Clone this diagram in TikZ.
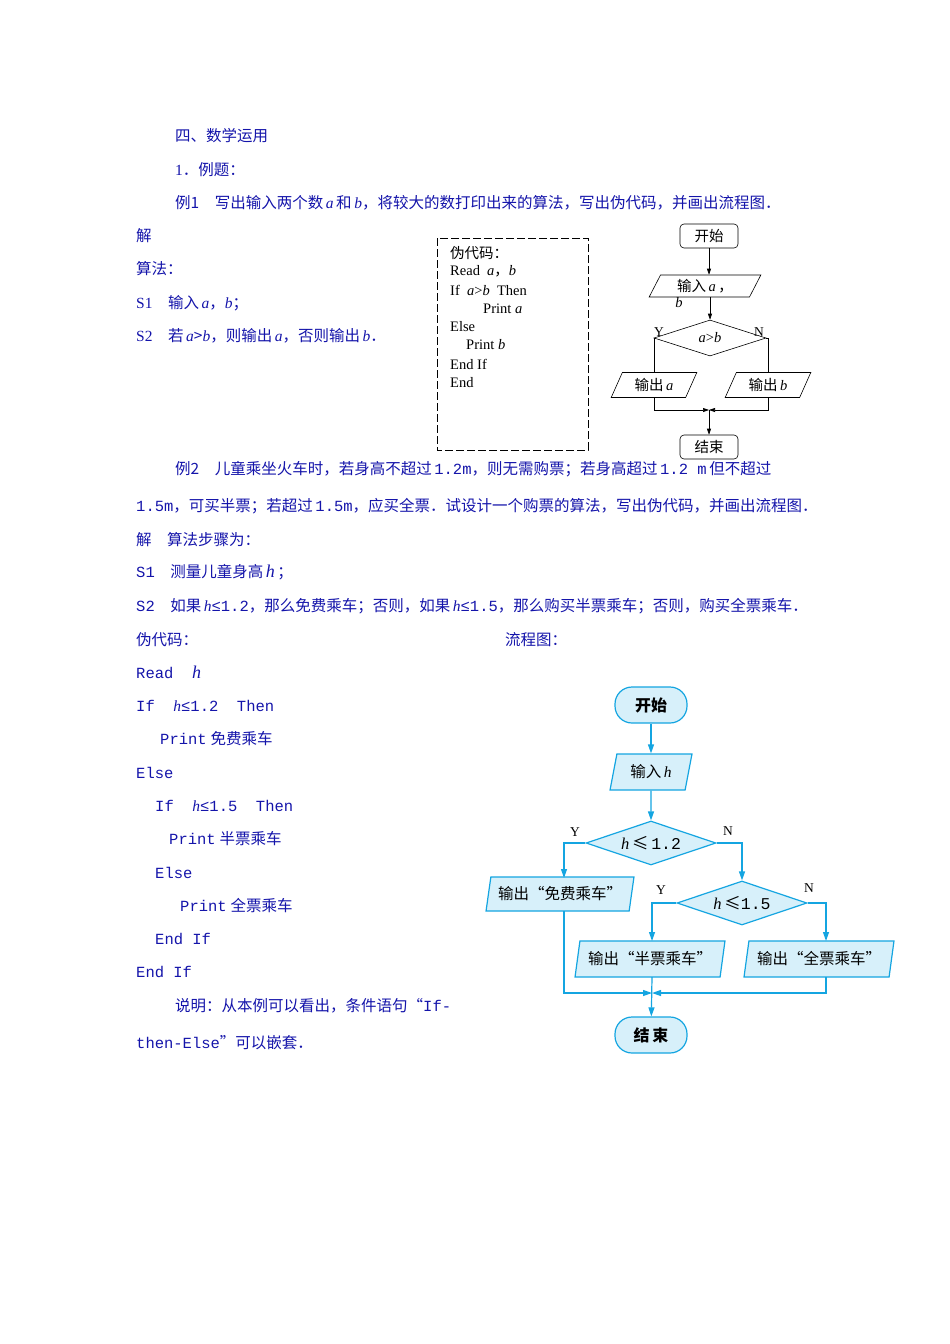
\documentclass[tikz,border=0pt]{standalone}
\usepackage{fontspec}
\setmainfont{Liberation Serif}
\newfontfamily\cj{Noto Sans CJK SC}
\newfontfamily\mn{Liberation Mono}
\usetikzlibrary{shapes.geometric,arrows.meta}
\definecolor{tb}{RGB}{20,20,170}
\definecolor{cy}{RGB}{20,165,225}
\definecolor{cf}{RGB}{215,240,250}
\begin{document}
\begin{tikzpicture}[x=1pt,y=-1pt,
 txt/.style={anchor=west,inner sep=0,text=tb,font=\fontsize{15.5}{17}\selectfont},
 cod/.style={anchor=west,inner sep=0,font=\fontsize{14.5}{16}\selectfont},
 bk/.style={draw,semithick,rounded corners=4pt,minimum width=58,minimum height=24,font=\cj\fontsize{14.5}{16}\selectfont},
 pg/.style={draw,semithick,trapezium,trapezium left angle=65,trapezium right angle=115,trapezium stretches=true,inner sep=1pt,font=\fontsize{14.5}{16}\selectfont},
 dm/.style={draw,semithick,diamond,aspect=3,inner sep=0pt,font=\fontsize{14.5}{16}\selectfont},
 cst/.style={draw=cy,fill=cf,line width=1.2pt,rounded corners=17pt,minimum width=72,minimum height=36,font=\cj\bfseries\fontsize{16}{18}\selectfont},
 cpg/.style={draw=cy,fill=cf,line width=1.2pt,trapezium,trapezium left angle=75,trapezium right angle=105,trapezium stretches=true,minimum height=34,inner sep=1pt,font=\cj\fontsize{15.5}{17}\selectfont},
 cdm/.style={draw=cy,fill=cf,line width=1.2pt,diamond,aspect=3,minimum width=130,minimum height=44,inner sep=0,font=\fontsize{16.5}{18}\selectfont},
 ar/.style={-{Triangle[length=6pt,width=4pt]},semithick},
 car/.style={-{Triangle[length=9pt,width=6pt]},cy,line width=1.2pt},
 lb/.style={font=\fontsize{13.5}{15}\selectfont,inner sep=0}]
\useasboundingbox (0,0) rectangle (950,1344);
% texts top
\node[txt] (t1) at (175,136) {\cj 四、数学运用};
\node[txt] (t2) at (175,170) {1\cj．例题：};
\node[txt] (t3) at (175,203) {\cj 例1\quad 写出输入两个数\,{\rmfamily\itshape a}\,和\,{\rmfamily\itshape b}，将较大的数打印出来的算法，写出伪代码，并画出流程图．};
\node[txt] (t4) at (136,236) {\cj 解};
\node[txt] (t5) at (136,269) {\cj 算法：};
\node[txt] (t6) at (136,303) {S1\quad \cj 输入\,{\rmfamily\itshape a}，{\rmfamily\itshape b}；};
\node[txt] (t7) at (136,336) {S2\quad \cj 若\,{\rmfamily\itshape a}>{\rmfamily\itshape b}，则输出\,{\rmfamily\itshape a}，否则输出\,{\rmfamily\itshape b}．};
% dashed box
\draw[semithick,dash pattern=on 8pt off 3pt] (437,238) rectangle (588,450);
\node[cod] (c1) at (450,253) {\cj 伪代码：};
\node[cod] (c2) at (450,271) {Read\ \ \textit{a}{\cj ，}\textit{b}};
\node[cod] (c3) at (450,290) {If\ \ \textit{a}>\textit{b}\ \ Then};
\node[cod] (c4) at (483,309) {Print \textit{a}};
\node[cod] (c5) at (450,327) {Else};
\node[cod] (c6) at (466,345) {Print \textit{b}};
\node[cod] (c7) at (450,364) {End If};
\node[cod] (c8) at (450,383) {End};
% top flowchart
\node[bk] (s) at (709,236) {开始};
\node[pg,minimum width=112,minimum height=22] (in) at (705,286) {{\cj 输入}\,\textit{a}\,{\cj ，}};
\node[lb,font=\itshape\fontsize{14.5}{16}\selectfont] (inb) at (679,303) {b};
\node[dm,minimum width=112,minimum height=36] (d) at (710,338) {\textit{a}>\textit{b}};
\node[pg,minimum width=86,minimum height=25] (oa) at (654,385) {{\cj 输出}\,\textit{a}};
\node[pg,minimum width=86,minimum height=25] (ob) at (768,385) {{\cj 输出}\,\textit{b}};
\node[bk] (e) at (709,447) {结束};
\coordinate (m) at (709,410);
\node[lb] (y1) at (659,332) {Y};
\node[lb] (n1) at (759,332) {N};
\draw[ar] (s) -- (s |- in.north);
\draw[ar] (in.south -| d.north) -- (d.north);
\draw[semithick] (d.west) -| (oa.north);
\draw[semithick] (d.east) -| (ob.north);
\draw[ar] (oa.south) |- (m);
\draw[ar] (ob.south) |- (m);
\draw[ar] (m) -- (e);
% example 2 texts
\node[txt] (u1) at (175,469) {\cj 例2\quad 儿童乘坐火车时，若身高不超过\,{\mn 1.2m}，则无需购票；若身高超过\,{\mn 1.2 m}\,但不超过};
\node[txt] (u2) at (136,506) {{\mn 1.5m}\cj，可买半票；若超过\,{\mn 1.5m}，应买全票．试设计一个购票的算法，写出伪代码，并画出流程图．};
\node[txt] (u3) at (136,540) {\cj 解\quad 算法步骤为：};
\node[txt] (u4) at (136,572) {{\mn S1}\quad \cj 测量儿童身高\,{\rmfamily\itshape\fontsize{18}{19}\selectfont h}\,；};
\node[txt] (u5) at (136,606) {{\mn S2}\quad \cj 如果\,{\rmfamily\itshape h}{\mn≤1.2}，那么免费乘车；否则，如果\,{\rmfamily\itshape h}{\mn≤1.5}，那么购买半票乘车；否则，购买全票乘车．};
\node[txt] (u6) at (136,640) {\cj 伪代码：};
\node[txt] (u7) at (505,640) {\cj 流程图：};
\node[txt] (p1) at (136,672) {\mn Read\ \ {\rmfamily\itshape\fontsize{18}{19}\selectfont h}};
\node[txt] (p2) at (136,706) {\mn If\ \ {\rmfamily\itshape h}≤1.2\ \ Then};
\node[txt] (p3) at (160,739) {{\mn Print} {\cj 免费乘车}};
\node[txt] (p4) at (136,773) {\mn Else};
\node[txt] (p5) at (155,806) {\mn If\ \ {\rmfamily\itshape h}≤1.5\ \ Then};
\node[txt] (p6) at (169,839) {{\mn Print} {\cj 半票乘车}};
\node[txt] (p7) at (155,873) {\mn Else};
\node[txt] (p8) at (180,906) {{\mn Print} {\cj 全票乘车}};
\node[txt] (p9) at (155,939) {\mn End\ If};
\node[txt] (p10) at (136,972) {\mn End\ If};
\node[txt] (p11) at (175,1006) {{\cj 说明：从本例可以看出，条件语句“}{\mn If-}};
\node[txt] (p12) at (136,1043) {{\mn then-Else}{\cj ”可以嵌套．}};
% bottom flowchart
\node[cst] (S) at (651,705) {开始};
\node[cpg,minimum width=82,minimum height=36] (IN) at (651,772) {输入\,{\rmfamily\itshape h}};
\node[cdm] (D1) at (651,843) {{\itshape h}\,{\cj ≤}\,{\mn 1.2}};
\node[cdm] (D2) at (742,903) {{\itshape h}\,{\cj ≤}{\mn 1.5}};
\node[cpg,minimum width=148] (O1) at (560,894) {输出“免费乘车”};
\node[cpg,minimum width=150,minimum height=36] (O2) at (650,959) {输出“半票乘车”};
\node[cpg,minimum width=150,minimum height=36] (O3) at (819,959) {输出“全票乘车”};
\node[cst] (E) at (651,1035) {结\,束};
\coordinate (M) at (652,993);
\node[lb] (Y1) at (575,832) {Y};
\node[lb] (N1) at (728,831) {N};
\node[lb] (Y2) at (661,890) {Y};
\node[lb] (N2) at (809,888) {N};
\draw[car] (S) -- (IN);
\draw[car] (IN) -- (D1);
\draw[car] (D1.west) -| (564,878);
\draw[car] (D1.east) -| (D2.north);
\draw[car] (D2.west) -| (652,941);
\draw[car] (D2.east) -| (826,941);
\draw[car] (564,911) |- (M);
\draw[car] (826,977) |- (M);
\draw[car] (652,977) -- (E);
\end{tikzpicture}
\end{document}
